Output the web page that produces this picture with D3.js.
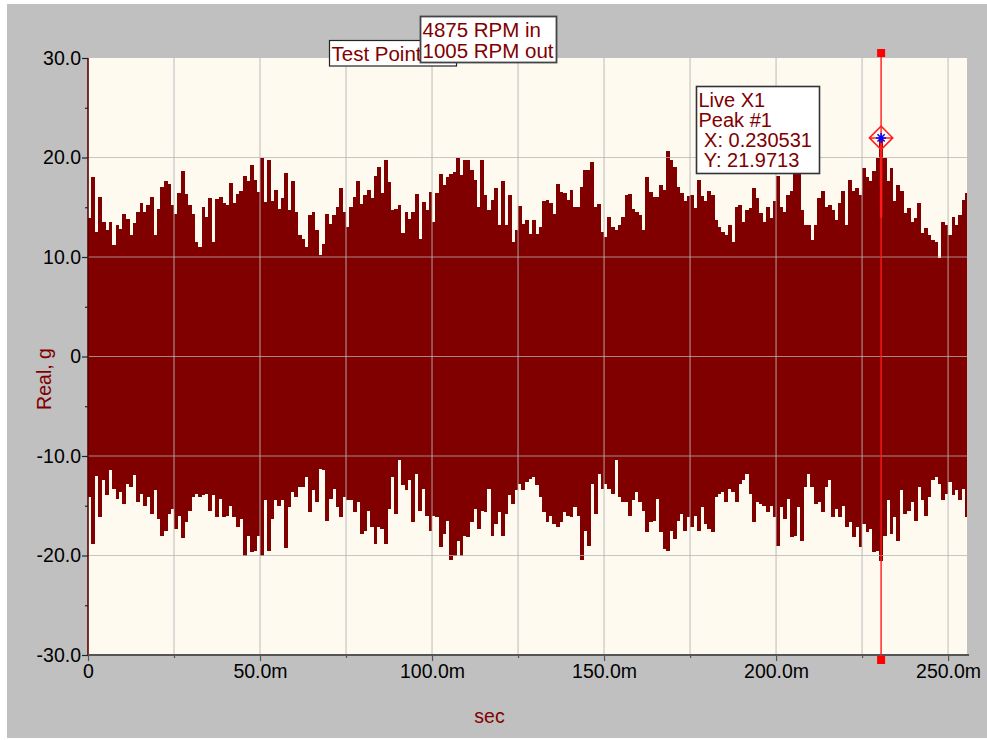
<!DOCTYPE html>
<html>
<head>
<meta charset="utf-8">
<script src="https://cdn.jsdelivr.net/npm/d3@7"></script>
<style>
  body { margin: 0; background: #fff; }
  text { font-family: "Liberation Sans", Arial, sans-serif; }
</style>
</head>
<body>
<svg id="chart"></svg>
<script>
// sample spacing of the peak bins, seconds
var sampleStep = 0.001;

// positive peak per 1 ms bin (g)
var upperPeaks = [
  13.9, 18.0, 12.5, 16.0, 13.5, 12.7, 13.5, 11.2, 13.2, 12.8,
  14.3, 13.8, 12.2, 13.4, 14.5, 15.4, 14.5, 15.2, 16.0, 12.2,
  14.8, 17.0, 17.6, 17.3, 15.2, 14.3, 16.4, 18.6, 16.3, 15.2,
  14.3, 11.5, 11.0, 15.0, 14.0, 15.9, 11.5, 15.8, 16.0, 15.4,
  15.2, 17.4, 15.4, 16.3, 16.6, 18.1, 17.6, 19.2, 17.7, 16.5,
  19.9, 15.5, 19.7, 15.6, 16.7, 14.8, 15.9, 18.4, 14.7, 17.6,
  14.5, 12.2, 11.8, 11.0, 14.2, 14.5, 12.7, 10.2, 11.3, 14.3,
  13.3, 14.2, 15.0, 16.9, 14.5, 13.0, 15.0, 16.0, 17.6, 15.3,
  16.2, 16.7, 15.9, 18.1, 19.0, 16.4, 19.7, 17.5, 14.7, 14.8,
  15.2, 12.4, 14.5, 13.8, 14.5, 16.3, 11.8, 15.5, 14.7, 16.5,
  13.5, 16.4, 18.3, 17.2, 18.0, 18.3, 18.5, 19.9, 18.2, 19.7,
  19.7, 18.7, 17.7, 15.0, 19.7, 16.2, 14.7, 15.7, 16.9, 13.2,
  17.6, 13.2, 16.2, 11.5, 12.7, 15.1, 13.3, 13.7, 12.3, 13.7,
  12.3, 13.0, 15.6, 15.7, 15.4, 14.3, 17.3, 16.5, 16.4, 15.7,
  16.7, 15.0, 15.0, 17.0, 18.7, 18.7, 19.5, 15.0, 15.3, 12.5,
  12.0, 14.0, 13.0, 12.7, 13.2, 14.0, 16.2, 16.3, 14.8, 14.5,
  14.2, 12.7, 18.0, 16.5, 16.0, 16.0, 17.2, 16.7, 20.7, 19.7,
  19.0, 17.0, 16.4, 15.6, 16.1, 16.2, 14.9, 17.7, 16.1, 15.6,
  16.6, 16.2, 13.7, 13.0, 12.5, 12.2, 13.2, 11.5, 15.0, 15.2,
  13.5, 14.7, 14.9, 16.9, 15.9, 14.4, 13.5, 15.0, 13.9, 15.6,
  18.1, 15.0, 14.5, 16.2, 16.6, 19.0, 18.4, 14.7, 13.2, 13.2,
  11.7, 13.2, 15.9, 16.6, 15.0, 15.2, 14.7, 13.7, 15.4, 16.6,
  13.2, 17.7, 16.6, 16.9, 16.2, 18.9, 18.0, 17.6, 18.6, 19.9,
  21.97, 19.9, 17.6, 18.9, 15.6, 17.2, 16.6, 14.4, 14.9, 13.5,
  13.9, 15.4, 12.4, 12.9, 12.2, 11.7, 11.5, 9.9, 13.5, 13.2,
  12.2, 14.0, 13.2, 14.2, 15.7, 16.4
];

// negative peak per 1 ms bin (g)
var lowerPeaks = [
  -14.1, -18.8, -12.0, -16.1, -12.4, -13.9, -11.4, -13.3, -14.3, -13.6,
  -14.8, -12.8, -13.1, -11.9, -14.6, -13.8, -15.0, -14.1, -15.8, -13.4,
  -16.3, -18.0, -17.5, -15.8, -15.3, -17.3, -16.0, -18.2, -16.6, -15.5,
  -14.1, -13.8, -14.1, -13.9, -13.8, -15.5, -13.9, -16.1, -14.3, -16.1,
  -16.0, -15.0, -16.1, -17.1, -16.3, -20.1, -18.0, -19.6, -19.5, -18.0,
  -20.0, -14.4, -19.5, -16.3, -14.4, -15.0, -14.4, -19.2, -15.1, -13.6,
  -14.1, -13.1, -13.1, -12.1, -15.6, -13.4, -14.6, -11.3, -11.4, -16.5,
  -14.3, -13.3, -15.1, -16.1, -14.1, -14.4, -14.4, -15.6, -14.6, -17.8,
  -17.5, -15.5, -17.1, -18.8, -17.1, -17.3, -18.8, -15.3, -12.1, -15.8,
  -10.4, -12.9, -13.4, -12.4, -16.6, -11.8, -15.5, -13.3, -16.0, -17.5,
  -16.0, -16.1, -19.1, -17.8, -16.5, -20.5, -20.1, -18.5, -20.0, -18.0,
  -18.1, -16.6, -15.3, -17.3, -15.5, -15.6, -13.3, -18.0, -16.8, -15.6,
  -18.0, -15.8, -13.9, -14.8, -13.4, -12.8, -13.4, -12.6, -12.3, -12.1,
  -12.9, -14.1, -15.6, -16.6, -16.0, -16.8, -17.1, -16.6, -15.6, -16.0,
  -16.1, -15.1, -16.0, -20.5, -17.5, -19.0, -12.8, -15.8, -11.8, -13.3,
  -12.8, -13.3, -13.8, -10.4, -14.1, -14.6, -14.6, -16.0, -14.4, -13.6,
  -14.6, -15.5, -17.6, -16.6, -16.5, -14.3, -17.6, -19.3, -19.5, -17.5,
  -18.3, -16.5, -15.8, -17.5, -16.1, -17.1, -16.0, -17.5, -15.1, -16.8,
  -17.3, -17.6, -14.1, -13.8, -13.6, -14.6, -13.3, -13.6, -14.6, -12.8,
  -12.4, -11.8, -13.8, -16.6, -14.6, -14.8, -15.0, -15.6, -15.0, -16.1,
  -19.0, -15.1, -16.3, -14.3, -18.1, -18.0, -15.1, -18.5, -13.1, -11.8,
  -13.1, -14.8, -14.6, -15.6, -13.1, -12.4, -16.1, -15.3, -16.1, -15.0,
  -17.1, -16.6, -18.1, -17.1, -19.1, -16.8, -17.6, -17.3, -19.6, -19.5,
  -20.6, -18.0, -14.4, -17.8, -16.1, -18.5, -13.4, -15.8, -15.5, -14.6,
  -16.5, -13.1, -14.4, -16.0, -14.1, -12.4, -12.1, -12.8, -14.4, -13.8,
  -12.6, -13.9, -13.4, -14.4, -13.3, -16.1
];

var xDomain = [0, 0.2555];
var yDomain = [-30, 30];
var xTicks = [0, 0.05, 0.10, 0.15, 0.20, 0.25];
var xTickLabels = ["0", "50.0m", "100.0m", "150.0m", "200.0m", "250.0m"];
var xMinorTicks = [0.025, 0.075, 0.125, 0.175, 0.225];
var yTicks = [-30, -20, -10, 0, 10, 20, 30];
var yTickLabels = ["-30.0", "-20.0", "-10.0", "0", "10.0", "20.0", "30.0"];
var yMinorTicks = [-25, -15, -5, 5, 15, 25];

var noteTestPoint = ["Test Point"];
var noteRpm = ["4875 RPM in", "1005 RPM out"];
var cursorX = 0.230531, cursorY = 21.9713;
var cursorLines = ["Live X1", "Peak #1", " X: 0.230531", " Y: 21.9713"];

var width = 987, height = 740;
var plotL = 88, plotR = 967, plotT = 58, plotB = 655;
var traceColor = "#800000";

var svg = d3.select("#chart").attr("width", width).attr("height", height);

// panel background
svg.append("rect").attr("x", 7).attr("y", 4).attr("width", width - 7).attr("height", 734)
  .attr("fill", "#c0c0c0");
svg.append("rect").attr("x", plotL).attr("y", plotT).attr("width", plotR - plotL).attr("height", plotB - plotT)
  .attr("fill", "#fefaef");

var x = d3.scaleLinear().domain(xDomain).range([plotL, plotR]);
var y = d3.scaleLinear().domain(yDomain).range([plotB, plotT]);

svg.append("clipPath").attr("id", "plotClip")
  .append("rect").attr("x", plotL).attr("y", plotT).attr("width", plotR - plotL).attr("height", plotB - plotT);

// trace, drawn as peak bins
var bins = upperPeaks.map(function(u, i) {
  return { t: i * sampleStep, hi: u, lo: lowerPeaks[i] };
});
svg.append("g").attr("clip-path", "url(#plotClip)")
  .selectAll("rect").data(bins).enter().append("rect")
  .attr("x", function(d) { return x(d.t); })
  .attr("width", function(d) { return x(d.t + sampleStep) - x(d.t) + 0.4; })
  .attr("y", function(d) { return y(d.hi); })
  .attr("height", function(d) { return y(d.lo) - y(d.hi); })
  .attr("fill", traceColor)
  .attr("shape-rendering", "crispEdges");

// grid on top of the trace
var gridX = xTicks.concat(xMinorTicks).filter(function(v) { return v > 0; });
var gridY = yTicks.filter(function(v) { return v > yDomain[0] && v < yDomain[1]; });
var grid = svg.append("g").attr("stroke", "#b4b4b4").attr("stroke-opacity", 0.75).attr("stroke-width", 1.2);
grid.selectAll("line.gx").data(gridX).enter().append("line")
  .attr("x1", function(d) { return x(d); }).attr("x2", function(d) { return x(d); })
  .attr("y1", plotT).attr("y2", plotB);
grid.selectAll("line.gy").data(gridY).enter().append("line")
  .attr("x1", plotL).attr("x2", plotR)
  .attr("y1", function(d) { return y(d); }).attr("y2", function(d) { return y(d); });

// axes
var yAxis = d3.axisLeft(y).tickValues(yTicks).tickSize(6).tickPadding(1)
  .tickFormat(function(d, i) { return yTickLabels[i]; });
var yMinor = d3.axisLeft(y).tickValues(yMinorTicks).tickSize(3).tickFormat("");
var xAxis = d3.axisBottom(x).tickValues(xTicks).tickSize(6).tickPadding(3)
  .tickFormat(function(d, i) { return xTickLabels[i]; });
var xMinor = d3.axisBottom(x).tickValues(xMinorTicks).tickSize(3).tickFormat("");

function styleAxis(g, col) {
  g.select(".domain").remove();
  g.selectAll(".tick line").attr("stroke", col).attr("stroke-width", 1.2);
  g.selectAll(".tick text").attr("fill", "#000").style("font-size", "19.5px")
    .style("font-family", "'Liberation Sans', Arial, sans-serif");
}
svg.append("g").attr("transform", "translate(" + plotL + ",0)").call(yAxis).call(styleAxis, "#222");
svg.append("g").attr("transform", "translate(" + plotL + ",0)").call(yMinor).call(styleAxis, "#222");
svg.append("g").attr("transform", "translate(0," + plotB + ")").call(xAxis).call(styleAxis, "#555");
svg.append("g").attr("transform", "translate(0," + plotB + ")").call(xMinor).call(styleAxis, "#555");

svg.append("line").attr("x1", plotL).attr("x2", plotL).attr("y1", plotT).attr("y2", plotB)
  .attr("stroke", "#5a0000").attr("stroke-width", 1.6);
svg.append("line").attr("x1", plotL).attr("x2", plotR + 2).attr("y1", plotB).attr("y2", plotB)
  .attr("stroke", "#555").attr("stroke-width", 2);

// axis titles
svg.append("text").attr("x", 489.5).attr("y", 723).attr("text-anchor", "middle")
  .attr("fill", traceColor).style("font-size", "19.5px").text("sec");
svg.append("text").attr("transform", "translate(51,379)rotate(-90)").attr("text-anchor", "middle")
  .attr("fill", traceColor).style("font-size", "19.5px").text("Real, g");

// note boxes
function noteBox(bx, by, bw, bh, lines, stroke, sw, lineH, firstBase, fs) {
  var g = svg.append("g");
  g.append("rect").attr("x", bx).attr("y", by).attr("width", bw).attr("height", bh)
    .attr("fill", "#fff").attr("stroke", stroke).attr("stroke-width", sw);
  g.selectAll("text").data(lines).enter().append("text")
    .attr("x", bx + 2).attr("y", function(d, i) { return by + firstBase + i * lineH; })
    .attr("fill", traceColor).style("font-size", fs + "px").style("white-space", "pre")
    .text(function(d) { return d; });
}
noteBox(329.5, 40.5, 127, 25.5, noteTestPoint, "#222", 1.2, 20, 20.5, 20.5);
noteBox(420.5, 16.5, 136, 46, noteRpm, "#444", 1.8, 20.5, 20.5, 20.5);
noteBox(696.5, 86.5, 123, 87, cursorLines, "#333", 1.6, 20, 20.5, 20);

// cursor
var cx = x(cursorX), cy = y(cursorY);
svg.append("line").attr("x1", cx).attr("x2", cx).attr("y1", 53).attr("y2", 660)
  .attr("stroke", "#ff1a1a").attr("stroke-width", 1.4);
svg.append("line").attr("x1", cx).attr("x2", cx).attr("y1", cy).attr("y2", y(upperPeaks[230] - 8))
  .attr("stroke", "#ff1a1a").attr("stroke-width", 2.5);
[53, 660].forEach(function(sy) {
  svg.append("rect").attr("x", cx - 4).attr("y", sy - 4).attr("width", 8).attr("height", 8)
    .attr("fill", "#ff0000");
});
var r = 11.7;
svg.append("path")
  .attr("d", "M" + (cx - r) + "," + cy + "L" + cx + "," + (cy - r) + "L" + (cx + r) + "," + cy + "L" + cx + "," + (cy + r) + "Z" +
    "M" + (cx - r) + "," + cy + "L" + (cx + r) + "," + cy)
  .attr("fill", "none").attr("stroke", "#ff2020").attr("stroke-width", 1.5);
var s = 5;
svg.append("path")
  .attr("d", "M" + (cx - s) + "," + cy + "L" + (cx + s) + "," + cy +
    "M" + cx + "," + (cy - s) + "L" + cx + "," + (cy + s) +
    "M" + (cx - s * 0.72) + "," + (cy - s * 0.72) + "L" + (cx + s * 0.72) + "," + (cy + s * 0.72) +
    "M" + (cx - s * 0.72) + "," + (cy + s * 0.72) + "L" + (cx + s * 0.72) + "," + (cy - s * 0.72))
  .attr("stroke", "#0000ff").attr("stroke-width", 1.5);
</script>
</body>
</html>
